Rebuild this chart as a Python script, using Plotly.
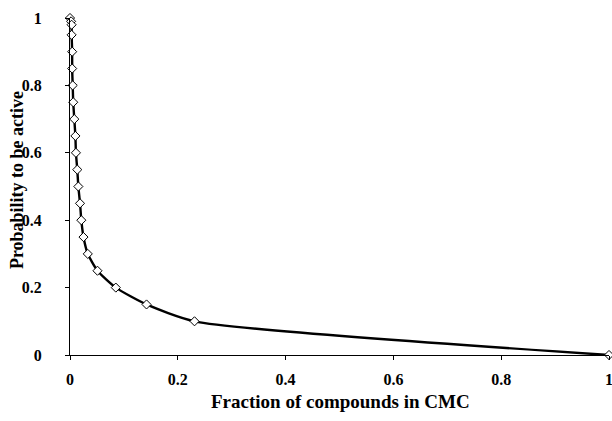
import plotly.graph_objects as go

# Data
fraction_cmc = [0.0, 0.002, 0.003, 0.003, 0.004, 0.004, 0.005, 0.006, 0.008, 0.010,
                0.011, 0.0135, 0.0155, 0.0186, 0.021, 0.025, 0.033, 0.051, 0.085, 0.142, 0.231, 1.0]
prob_active = [1.0, 0.99, 0.98, 0.95, 0.90, 0.85, 0.80, 0.75, 0.70, 0.65,
               0.60, 0.55, 0.50, 0.45, 0.40, 0.35, 0.30, 0.25, 0.20, 0.15, 0.10, 0.0]

x_ticks = [0, 0.2, 0.4, 0.6, 0.8, 1]
x_tick_labels = ["0", "0.2", "0.4", "0.6", "0.8", "1"]
y_ticks = [0, 0.2, 0.4, 0.6, 0.8, 1]
y_tick_labels = ["0", "0.2", "0.4", "0.6", "0.8", "1"]

x_title = "Fraction of compounds in CMC"
y_title = "Probability to be active"

font_family = "Liberation Serif, Times New Roman, serif"

fig = go.Figure()
fig.add_trace(go.Scatter(
    x=fraction_cmc, y=prob_active,
    mode="lines+markers",
    line=dict(color="black", width=2.4, shape="spline", smoothing=0.6),
    marker=dict(symbol="diamond", size=7, color="white",
                line=dict(color="black", width=1)),
    cliponaxis=False,
    showlegend=False,
))

fig.update_layout(
    width=612, height=421,
    margin=dict(l=70, r=3, t=18, b=66, autoexpand=False),
    paper_bgcolor="white", plot_bgcolor="white",
    font=dict(family=font_family, color="black"),
    xaxis=dict(
        range=[0, 1], tickvals=x_ticks, ticktext=x_tick_labels,
        showgrid=False, zeroline=False, showline=True, linecolor="black", linewidth=1,
        ticks="outside", ticklen=4, tickcolor="black", automargin=False,
        ticklabelstandoff=6, ticklabeloverflow="allow",
        tickfont=dict(size=16, family=font_family, weight="bold"),
    ),
    yaxis=dict(
        range=[0, 1], tickvals=y_ticks, ticktext=y_tick_labels,
        showgrid=False, zeroline=False, showline=True, linecolor="black", linewidth=1,
        ticks="outside", ticklen=4, tickcolor="black", automargin=False,
        ticklabelstandoff=20, ticklabeloverflow="allow",
        tickfont=dict(size=16, family=font_family, weight="bold"),
    ),
    annotations=[
        dict(text="<b>" + x_title + "</b>", xref="paper", yref="paper",
             x=0.501, y=-0.137, xanchor="center", yanchor="middle",
             showarrow=False, font=dict(size=19, family=font_family)),
        dict(text="<b>" + y_title + "</b>", xref="paper", yref="paper",
             x=-0.0983, y=0.519, xanchor="center", yanchor="middle", textangle=-90,
             showarrow=False, font=dict(size=18, family=font_family)),
    ],
)

fig.write_html("out.html", config={"displayModeBar": False},
               post_script="document.body.style.margin='0px';document.body.style.overflow='hidden';")
